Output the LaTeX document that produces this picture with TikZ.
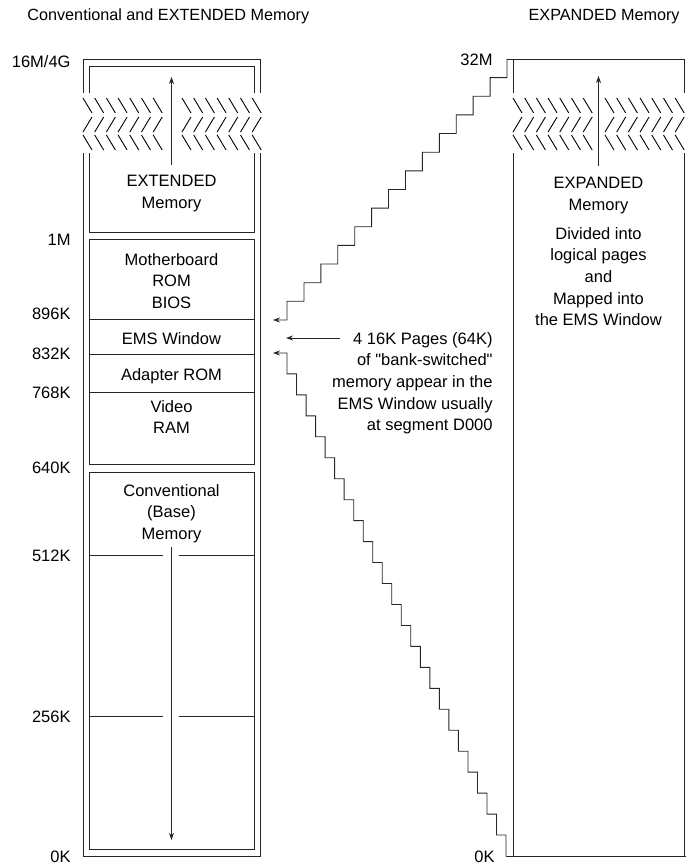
\documentclass[tikz,border=0pt]{standalone}
\usepackage{fontspec}
\setmainfont{Liberation Sans}[Ligatures=TeXOff]
\usetikzlibrary{arrows.meta}
\begin{document}
\begin{tikzpicture}[x=1pt,y=-1pt,line width=0.85pt,
  ln/.style={draw=black!85},
  txt/.style={font=\fontsize{16.5}{21.6}\selectfont,inner sep=0pt,align=center,anchor=north},
  rtxt/.style={font=\fontsize{16.5}{21.6}\selectfont,inner sep=0pt,align=right,anchor=north east},
  lbl/.style={font=\fontsize{16.5}{19}\selectfont,inner sep=0pt,anchor=base east},
  ttl/.style={font=\fontsize{16.2}{19}\selectfont,inner sep=0pt},
  arr/.style={ln,-{Stealth[length=7pt,width=5pt]}},
  zz/.style={draw=black,line width=0.9pt}]
\useasboundingbox (0,0) rectangle (686,864);

% titles
\node[ttl,anchor=base west] (t1) at (27,21) {Conventional and EXTENDED Memory};
\node[ttl,anchor=base east] (t2) at (680,21) {EXPANDED Memory};

% ---------- left column ----------
% outer frame (broken)
\draw[ln] (83,93) -- (83,59) -- (260,59) -- (260,93);
\draw[ln] (83,153) -- (83,856) -- (260,856) -- (260,153);
% extended box (broken)
\draw[ln] (89,93) -- (89,66) -- (254,66) -- (254,93);
\draw[ln] (89,153) -- (89,232) -- (254,232) -- (254,153);
% upper memory box
\draw[ln] (89,239) rectangle (254,464);
\draw[ln] (89,319) -- (254,319);
\draw[ln] (89,354) -- (254,354);
\draw[ln] (89,392) -- (254,392);
% conventional box
\draw[ln] (89,472) rectangle (254,849);
\draw[ln] (89,555) -- (163,555) (179,555) -- (254,555);
\draw[ln] (89,716) -- (163,716) (179,716) -- (254,716);

% zigzag breaks
\foreach \s in {83,182,513,605}{
  \foreach \k in {0,...,6}{
    \pgfmathsetmacro{\xx}{\s+\k*11.7}
    \draw[zz] (\xx,98) -- ++(9,15);
    \draw[zz] (\xx+9,117) -- ++(-9,15);
    \draw[zz] (\xx,135) -- ++(9,15);
  }
}

% texts in left column
\node[txt] (ext) at (171.5,175) {EXTENDED\\Memory};
\node[txt] (mb) at (171.5,253) {Motherboard\\ROM\\BIOS};
\node[txt] (ems) at (171.5,332) {EMS Window};
\node[txt] (ad) at (171.5,368) {Adapter ROM};
\node[txt] (vid) at (171.5,400) {Video\\RAM};
\node[txt] (conv) at (171.5,484) {Conventional\\(Base)\\Memory};

% arrows in left column
\coordinate (extTop) at (171.5,77);
\coordinate (convBot) at (171.5,840);
\draw[arr] (ext.north) ++(0,-10) coordinate (extA) -- (extTop);
\draw[arr] (conv.south) ++(0,4) coordinate (convA) -- (convBot);

% address labels
\node[lbl] (a16) at (71,68) {16M/4G};
\node[lbl] (a1m) at (71,245) {1M};
\node[lbl] (a896) at (71,319) {896K};
\node[lbl] (a832) at (71,359) {832K};
\node[lbl] (a768) at (71,398) {768K};
\node[lbl] (a640) at (71,473) {640K};
\node[lbl] (a512) at (71,561) {512K};
\node[lbl] (a256) at (71,722) {256K};
\node[lbl] (a0) at (71,862) {0K};

% ---------- right column ----------
\draw[ln] (513,93) -- (513,59);
\draw[ln] (507,59) -- (684.5,59) -- (684.5,93);
\draw[ln] (513,153) -- (513,856);
\draw[ln] (684.5,153) -- (684.5,856);
\draw[ln] (506,856) -- (686,856);

\node[txt] (expd) at (598.5,177) {EXPANDED\\Memory};
\node[txt] (div) at (598.5,227) {Divided into\\logical pages\\and\\Mapped into\\the EMS Window};
\coordinate (expTop) at (598.5,76);
\draw[arr] (expd.north) ++(0,-11) coordinate (expA) -- (expTop);

\node[lbl] (a32) at (493,66) {32M};
\node[lbl] (b0) at (495,862) {0K};

% ---------- mapping staircases ----------
\coordinate (upS) at (507,59);
\coordinate (upE) at (273,320);
\draw[arr] (upS)
  \foreach \i in {1,...,13}{ -- ++(0,18.64) -- ++(-16.92,0) }
  -- ++(0,18.64) -- (upE);

\coordinate (loS) at (506,856);
\coordinate (loE) at (273,353);
\draw[arr] (loS)
  \foreach \i in {1,...,23}{ -- ++(0,-20.96) -- ++(-9.52,0) }
  -- ++(0,-20.96) -- (loE);

% annotation
\coordinate (noteE) at (286,338);
\node[rtxt] (note) at (493,332) {4 16K Pages (64K)\\of "bank-switched"\\memory appear in the\\EMS Window usually\\at segment D000};
\draw[arr] (340,338) coordinate (noteS) -- (noteE);
\end{tikzpicture}
\end{document}
